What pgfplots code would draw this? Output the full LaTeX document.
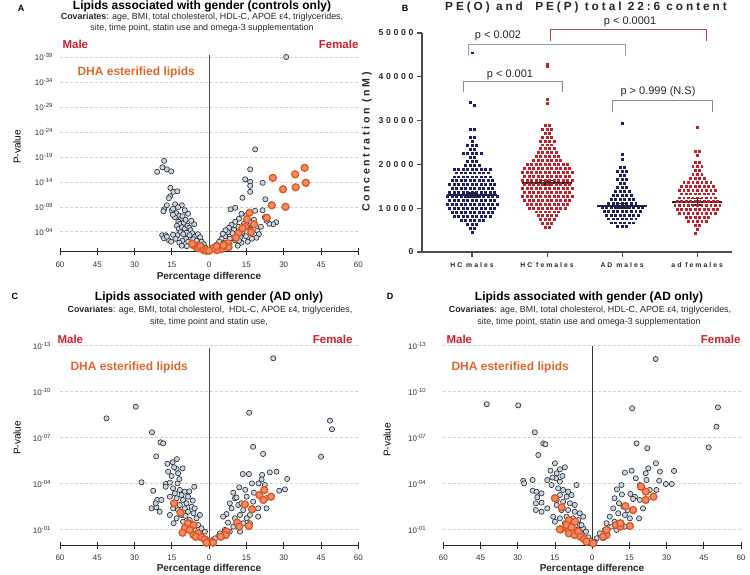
\documentclass[border=0pt]{standalone}
\usepackage{pgfplots}
\pgfplotsset{compat=1.18}
\usepackage{fontspec}
\setmainfont{Liberation Sans}
\newfontfamily\spacedt[LetterSpace=25]{Liberation Sans}
\newfontfamily\spacedy[LetterSpace=32]{Liberation Sans}
\newfontfamily\spacedx[LetterSpace=30]{Liberation Sans}
\definecolor{sexred}{HTML}{CC1F2F}
\definecolor{dhaorange}{HTML}{E0662C}
\definecolor{ptfill}{HTML}{C8D8E8}
\definecolor{dhafill}{HTML}{F08C6C}
\definecolor{dhaedge}{HTML}{DE561E}
\definecolor{navy}{HTML}{1E1E64}
\definecolor{fred}{HTML}{C0202A}
\definecolor{brgray}{HTML}{8A8A8A}
\definecolor{brblue}{HTML}{8FA2BA}
\definecolor{brred}{HTML}{A84848}

\pgfplotsset{
  volcano/.style={
    scale only axis, clip=false,
    xmin=-60, xmax=60, ymin=0,
    axis x line*=bottom, axis y line*=left,
    y axis line style={draw=none},
    x axis line style={line width=1pt, black!85},
    xtick={-60,-45,...,60},
    xticklabels={60,45,30,15,0,15,30,45,60},
    tick align=center,
    major tick length=7pt,
    xtick style={line width=0.8pt, black!85},
    ytick style={draw=none},
    ymajorgrids,
    major grid style={dash pattern=on 3pt off 2pt, gray!35, line width=0.5pt},
    xticklabel style={font=\fontsize{8}{9}\selectfont, text=black!80, yshift=-3pt},
    yticklabel style={font=\fontsize{8}{9}\selectfont, text=black!80},
  },
  grayp/.style={only marks, mark=*, mark size=2.6pt,
    mark options={fill=ptfill, draw=black!85, line width=0.6pt}},
  dhap/.style={only marks, mark=*, mark size=3.5pt,
    mark options={fill=dhafill, draw=dhaedge, line width=1.3pt}},
  swarm/.style={only marks, mark=square*, mark size=0.95pt},
}

\begin{document}
\begin{tikzpicture}
\path[use as bounding box] (0pt,0pt) rectangle (750pt,-575pt);

% ---------------- A ----------------
\begin{axis}[volcano, at={(60pt,-251.7pt)}, anchor=south west,
  width=298.3pt, height=196.7pt, ymax=39.4,
  ytick={4,9,14,19,24,29,34,39},
  yticklabels={10\textsuperscript{-04},10\textsuperscript{-09},10\textsuperscript{-14},10\textsuperscript{-19},10\textsuperscript{-24},10\textsuperscript{-29},10\textsuperscript{-34},10\textsuperscript{-39}},
]
\addplot[black!70, line width=1pt] coordinates {(0,0)(0,39.3)};
\addplot[grayp] coordinates {
(-18.1,18.2)(-18.8,16.9)(-17.0,16.5)(-15.3,16.1)(-20.9,16.0)
(-15.6,12.8)(-14.4,12.0)(-12.8,12.1)(-15.7,11.1)(-16.2,10.7)
(-17.0,9.3)(-13.7,9.5)(-18.1,8.5)(-15.0,8.3)(-18.4,8.1)(-14.5,8.6)
(-13.2,7.7)(-12.0,7.2)(-11.3,6.6)(-13.8,6.9)(-14.6,7.4)(-12.4,6.0)
(-10.7,7.1)(-11.7,5.6)(-10.2,5.8)(-9.5,6.4)(-13.0,5.2)(-12.2,4.6)
(-10.9,4.9)(-9.8,4.6)(-8.7,5.2)(-8.0,4.8)(-7.5,4.3)(-9.0,3.8)
(-11.5,3.9)(-10.4,3.5)(-12.8,3.3)(-6.8,3.7)(-7.9,3.3)(-5.8,3.0)
(-4.5,3.5)(-3.6,2.9)(-6.4,2.5)(-9.3,2.6)(-10.8,2.2)(-8.4,2.0)
(-5.0,2.2)(-3.0,2.0)(-2.2,1.5)(-4.2,1.5)(-7.0,1.6)(-12.0,1.8)
(-13.5,2.6)(-14.5,3.4)(-11.0,1.2)(-9.0,1.1)(-1.5,0.8)(-2.8,1.0)
(-18.9,3.3)(-17.5,3.3)(-18.2,2.7)(-16.2,2.3)(-17.0,3.0)(-15.3,2.0)
(-6.0,5.5)(-7.2,6.2)(-8.5,7.6)(-9.8,8.3)(-11.0,9.3)(-12.5,8.9)
(31.0,39.0)(18.5,20.5)(16.5,16.5)(14.5,14.5)(16.5,14.0)(16.5,13.2)(16.5,12.0)
(21.5,13.8)(13.4,10.8)(22.6,10.5)(8.6,8.5)(10.5,8.8)(18.5,8.2)(21.5,8.3)
(27.0,5.9)(25.8,5.5)(24.2,5.6)(23.1,6.2)
(12.0,6.6)(10.5,6.0)(9.0,5.4)(11.8,5.0)(10.0,4.4)(8.0,4.8)(13.4,4.0)(15.4,4.9)
(16.5,6.0)(18.0,6.4)(17.6,5.4)(16.8,4.4)(19.4,4.2)(20.0,3.5)(19.0,2.8)(17.2,2.6)
(14.8,3.1)(12.6,2.9)(11.0,3.4)(9.4,3.7)(7.5,3.9)(6.4,3.1)(8.3,2.6)(10.4,2.3)
(13.0,1.8)(15.5,2.0)(5.0,2.6)(4.0,2.0)(6.2,1.7)(8.2,1.5)(3.0,1.4)(2.2,0.9)
(4.8,1.1)(1.5,0.5)(7.0,1.0)(11.5,1.2)(12.0,2.2)(14.0,5.6)(6.6,4.3)(5.5,3.6)
(20.8,5.0)(22.4,6.9)(15.0,7.3)(13.0,7.6)
};
\addplot[dhap] coordinates {
(25.6,14.8)(29.7,12.5)(34.6,15.5)(38.4,16.8)(34.8,12.9)(38.9,13.8)(25.2,9.3)
(30.7,9.0)(23.2,6.8)(16.2,7.8)(15.2,6.5)(18.1,5.5)(14.5,5.0)(16.9,3.9)(11.8,3.7)
(13.4,4.7)(10.8,2.8)(7.5,1.7)(7.8,0.9)(4.8,0.5)(3.1,0.3)(5.8,1.3)(1.6,0.7)(3.0,1.1)
(-6.3,1.3)(-5.1,0.9)(-4.3,0.7)(-3.5,1.1)(-2.2,0.3)(-1.1,0.2)(0,0.2)(-6.8,1.6)
};
\end{axis}

% ---------------- B ----------------
\begin{axis}[at={(422pt,-252pt)}, anchor=south west, scale only axis,
  width=309.7pt, height=219pt, clip=false,
  xmin=-0.667, xmax=3.46, ymin=0, ymax=50000,
  axis x line*=bottom, axis y line*=left,
  axis line style={line width=1.6pt, black!70},
  tick style={line width=1.2pt, black!70},
  tick align=outside, major tick length=5pt,
  xtick={0,1,2,3}, xticklabels={HC males,HC females,AD males,ad females},
  ytick={0,10000,20000,30000,40000,50000},
  yticklabels={0,10000,20000,30000,40000,50000},
  scaled y ticks=false,
  xticklabel style={font=\spacedx\bfseries\fontsize{6.8}{8}\selectfont, text=black!85, yshift=-2pt},
  yticklabel style={font=\spacedy\bfseries\fontsize{8.6}{10}\selectfont, text=black!85},
]
% HC males
\addplot[swarm, navy] coordinates {
(-.03,28000)(.03,28000)(-.03,26200)(.03,26200)(0,25300)
(-.06,24400)(0,24400)(.06,24400)(-.03,23500)(.03,23500)
(-.12,22600)(-.06,22600)(0,22600)(.06,22600)(.12,22600)
(-.03,21700)(.03,21700)(-.06,20800)(0,20800)(.06,20800)
(-.09,19900)(-.03,19900)(.03,19900)(.09,19900)
(-.24,19000)(-.18,19000)(-.12,19000)(-.06,19000)(0,19000)(.06,19000)(.12,19000)(.18,19000)(.24,19000)
(-.21,18100)(-.15,18100)(-.09,18100)(-.03,18100)(.03,18100)(.09,18100)(.15,18100)(.21,18100)
(-.24,17200)(-.18,17200)(-.12,17200)(-.06,17200)(0,17200)(.06,17200)(.12,17200)(.18,17200)(.24,17200)
(-.27,16300)(-.21,16300)(-.15,16300)(-.09,16300)(-.03,16300)(.03,16300)(.09,16300)(.15,16300)(.21,16300)(.27,16300)
(-.3,15400)(-.24,15400)(-.18,15400)(-.12,15400)(-.06,15400)(0,15400)(.06,15400)(.12,15400)(.18,15400)(.24,15400)(.3,15400)
(-.27,14500)(-.21,14500)(-.15,14500)(-.09,14500)(-.03,14500)(.03,14500)(.09,14500)(.15,14500)(.21,14500)(.27,14500)
(-.3,13600)(-.24,13600)(-.18,13600)(-.12,13600)(-.06,13600)(0,13600)(.06,13600)(.12,13600)(.18,13600)(.24,13600)(.3,13600)
(-.33,12700)(-.27,12700)(-.21,12700)(-.15,12700)(-.09,12700)(-.03,12700)(.03,12700)(.09,12700)(.15,12700)(.21,12700)(.27,12700)(.33,12700)
(-.3,11800)(-.24,11800)(-.18,11800)(-.12,11800)(-.06,11800)(0,11800)(.06,11800)(.12,11800)(.18,11800)(.24,11800)(.3,11800)
(-.33,10900)(-.27,10900)(-.21,10900)(-.15,10900)(-.09,10900)(-.03,10900)(.03,10900)(.09,10900)(.15,10900)(.21,10900)(.27,10900)(.33,10900)
(-.3,10000)(-.24,10000)(-.18,10000)(-.12,10000)(-.06,10000)(0,10000)(.06,10000)(.12,10000)(.18,10000)(.24,10000)(.3,10000)
(-.27,9100)(-.21,9100)(-.15,9100)(-.09,9100)(-.03,9100)(.03,9100)(.09,9100)(.15,9100)(.21,9100)(.27,9100)
(-.24,8200)(-.18,8200)(-.12,8200)(-.06,8200)(0,8200)(.06,8200)(.12,8200)(.18,8200)(.24,8200)
(-.15,7300)(-.09,7300)(-.03,7300)(.03,7300)(.09,7300)(.15,7300)
(-.06,6400)(0,6400)(.06,6400)(-.03,5500)(.03,5500)(0,4600)
(.03,33600)(-.03,34200)(0,45500)
};
% HC females
\addplot[swarm, fred] coordinates {
(1,43000)(1,42400)(1,34800)(1,34000)
(.97,29000)(1.03,29000)(.94,28100)(1,28100)(1.06,28100)(.97,27200)(1.03,27200)
(.94,26300)(1,26300)(1.06,26300)(.91,25400)(.97,25400)(1.03,25400)(1.09,25400)
(.94,24500)(1,24500)(1.06,24500)(.91,23600)(.97,23600)(1.03,23600)(1.09,23600)
(.88,22700)(.94,22700)(1,22700)(1.06,22700)(1.12,22700)
(.85,21800)(.91,21800)(.97,21800)(1.03,21800)(1.09,21800)(1.15,21800)
(.82,20900)(.88,20900)(.94,20900)(1,20900)(1.06,20900)(1.12,20900)(1.18,20900)
(.73,20000)(.79,20000)(.85,20000)(.91,20000)(.97,20000)(1.03,20000)(1.09,20000)(1.15,20000)(1.21,20000)(1.27,20000)
(.7,19100)(.76,19100)(.82,19100)(.88,19100)(.94,19100)(1,19100)(1.06,19100)(1.12,19100)(1.18,19100)(1.24,19100)(1.3,19100)
(.67,18200)(.73,18200)(.79,18200)(.85,18200)(.91,18200)(.97,18200)(1.03,18200)(1.09,18200)(1.15,18200)(1.21,18200)(1.27,18200)(1.33,18200)
(.7,17300)(.76,17300)(.82,17300)(.88,17300)(.94,17300)(1,17300)(1.06,17300)(1.12,17300)(1.18,17300)(1.24,17300)(1.3,17300)
(.67,16400)(.73,16400)(.79,16400)(.85,16400)(.91,16400)(.97,16400)(1.03,16400)(1.09,16400)(1.15,16400)(1.21,16400)(1.27,16400)(1.33,16400)
(.7,15500)(.76,15500)(.82,15500)(.88,15500)(.94,15500)(1,15500)(1.06,15500)(1.12,15500)(1.18,15500)(1.24,15500)(1.3,15500)
(.67,14600)(.73,14600)(.79,14600)(.85,14600)(.91,14600)(.97,14600)(1.03,14600)(1.09,14600)(1.15,14600)(1.21,14600)(1.27,14600)(1.33,14600)
(.7,13700)(.76,13700)(.82,13700)(.88,13700)(.94,13700)(1,13700)(1.06,13700)(1.12,13700)(1.18,13700)(1.24,13700)(1.3,13700)
(.67,12800)(.73,12800)(.79,12800)(.85,12800)(.91,12800)(.97,12800)(1.03,12800)(1.09,12800)(1.15,12800)(1.21,12800)(1.27,12800)(1.33,12800)
(.7,11900)(.76,11900)(.82,11900)(.88,11900)(.94,11900)(1,11900)(1.06,11900)(1.12,11900)(1.18,11900)(1.24,11900)(1.3,11900)
(.73,11000)(.79,11000)(.85,11000)(.91,11000)(.97,11000)(1.03,11000)(1.09,11000)(1.15,11000)(1.21,11000)(1.27,11000)
(.76,10100)(.82,10100)(.88,10100)(.94,10100)(1,10100)(1.06,10100)(1.12,10100)(1.18,10100)(1.24,10100)
(.85,9200)(.91,9200)(.97,9200)(1.03,9200)(1.09,9200)(1.15,9200)
(.88,8300)(.94,8300)(1,8300)(1.06,8300)(1.12,8300)
(.91,7400)(.97,7400)(1.03,7400)(1.09,7400)
(.94,6500)(1,6500)(1.06,6500)(.97,5600)(1.03,5600)
};
% AD males
\addplot[swarm, navy] coordinates {
(2,29500)(2,22400)(2,21200)(1.97,19300)(2.03,19300)
(1.94,18400)(2,18400)(2.06,18400)(1.97,17500)(2.03,17500)
(1.94,16600)(2,16600)(2.06,16600)(1.97,15700)(2.03,15700)
(1.94,14800)(2,14800)(2.06,14800)
(1.91,13900)(1.97,13900)(2.03,13900)(2.09,13900)
(1.88,13000)(1.94,13000)(2,13000)(2.06,13000)(2.12,13000)
(1.85,12100)(1.91,12100)(1.97,12100)(2.03,12100)(2.09,12100)(2.15,12100)
(1.82,11200)(1.88,11200)(1.94,11200)(2,11200)(2.06,11200)(2.12,11200)(2.18,11200)
(1.73,10300)(1.79,10300)(1.85,10300)(1.91,10300)(1.97,10300)(2.03,10300)(2.09,10300)(2.15,10300)(2.21,10300)(2.27,10300)
(1.76,9400)(1.82,9400)(1.88,9400)(1.94,9400)(2,9400)(2.06,9400)(2.12,9400)(2.18,9400)(2.24,9400)
(1.79,8500)(1.85,8500)(1.91,8500)(1.97,8500)(2.03,8500)(2.09,8500)(2.15,8500)(2.21,8500)
(1.82,7600)(1.88,7600)(1.94,7600)(2,7600)(2.06,7600)(2.12,7600)(2.18,7600)
(1.85,6700)(1.91,6700)(1.97,6700)(2.03,6700)(2.09,6700)(2.15,6700)
(1.94,5900)(2,5900)(2.06,5900)
};
% ad females
\addplot[swarm, fred] coordinates {
(3,28500)(2.97,23000)(3.03,23000)(3,22100)(2.97,20500)(3.03,20500)
(2.94,19600)(3,19600)(3.06,19600)(2.97,18700)(3.03,18700)
(2.94,17800)(3,17800)(3.06,17800)(2.91,16900)(2.97,16900)(3.03,16900)(3.09,16900)
(2.82,16000)(2.88,16000)(2.94,16000)(3,16000)(3.06,16000)(3.12,16000)(3.18,16000)
(2.79,15100)(2.85,15100)(2.91,15100)(2.97,15100)(3.03,15100)(3.09,15100)(3.15,15100)(3.21,15100)
(2.76,14200)(2.82,14200)(2.88,14200)(2.94,14200)(3,14200)(3.06,14200)(3.12,14200)(3.18,14200)(3.24,14200)
(2.79,13300)(2.85,13300)(2.91,13300)(2.97,13300)(3.03,13300)(3.09,13300)(3.15,13300)(3.21,13300)
(2.76,12400)(2.82,12400)(2.88,12400)(2.94,12400)(3,12400)(3.06,12400)(3.12,12400)(3.18,12400)(3.24,12400)
(2.73,11500)(2.79,11500)(2.85,11500)(2.91,11500)(2.97,11500)(3.03,11500)(3.09,11500)(3.15,11500)(3.21,11500)(3.27,11500)
(2.7,10600)(2.76,10600)(2.82,10600)(2.88,10600)(2.94,10600)(3,10600)(3.06,10600)(3.12,10600)(3.18,10600)(3.24,10600)(3.3,10600)
(2.73,9700)(2.79,9700)(2.85,9700)(2.91,9700)(2.97,9700)(3.03,9700)(3.09,9700)(3.15,9700)(3.21,9700)(3.27,9700)
(2.76,8800)(2.82,8800)(2.88,8800)(2.94,8800)(3,8800)(3.06,8800)(3.12,8800)(3.18,8800)(3.24,8800)
(2.85,7900)(2.91,7900)(2.97,7900)(3.03,7900)(3.09,7900)(3.15,7900)
(2.88,7000)(2.94,7000)(3,7000)(3.06,7000)(3.12,7000)
(2.97,6100)(3.03,6100)(3,5200)(2.97,4300)
};
% means and SEM
\addplot[black!85, line width=2pt] coordinates {(-0.33,13000)(0.33,13000)};
\addplot[black!85, line width=2pt] coordinates {(0.67,15800)(1.33,15800)};
\addplot[black!85, line width=2pt] coordinates {(1.67,10600)(2.33,10600)};
\addplot[black!85, line width=2pt] coordinates {(2.67,11500)(3.33,11500)};
\addplot[black!85, only marks, mark=*, mark size=0pt, error bars/.cd, y dir=both, y explicit,
  error bar style={line width=1.2pt, black!85}, error mark options={rotate=90, mark size=6pt, line width=1.2pt, black!85}]
  coordinates {(0,13000) +- (0,450) (1,15800) +- (0,500) (2,10600) +- (0,550) (3,11500) +- (0,750)};
% comparison brackets
\addplot[brgray, line width=0.9pt] coordinates {(-0.12,36530)(-0.12,39040)(1.21,39040)(1.21,36530)};
\addplot[brblue, line width=0.9pt] coordinates {(-0.05,44750)(-0.05,47490)(2.04,47490)(2.04,44750)};
\addplot[brred, line width=0.9pt] coordinates {(1.04,48170)(1.04,50900)(3.13,50900)(3.13,48170)};
\addplot[brgray, line width=0.9pt] coordinates {(1.87,31960)(1.87,34700)(3.2,34700)(3.2,31960)};
\end{axis}

% ---------------- C ----------------
\begin{axis}[volcano, at={(60pt,-545pt)}, anchor=south west,
  width=298.3pt, height=199.3pt, ymax=13,
  ytick={1,4,7,10,13},
  yticklabels={10\textsuperscript{-01},10\textsuperscript{-04},10\textsuperscript{-07},10\textsuperscript{-10},10\textsuperscript{-13}},
  yticklabel style={xshift=-2pt},
]
\addplot[black!70, line width=1pt] coordinates {(0,0)(0,12.85)};
\addplot[grayp] coordinates {
(-29.5,9.02)(-41.3,8.26)(-23.0,7.35)(-19.6,6.7)(-18.5,6.63)(-21.3,5.78)(-27.2,4.09)
(-14.7,5.4)(-16.5,4.78)(-13.1,4.96)(-10.7,5.0)(-14.1,5.07)(-15.1,4.5)(-12.5,4.68)
(-6.0,3.8)(-22.5,3.54)(-20.9,2.94)(-19.2,2.94)(-23.2,2.39)(-21.2,2.46)(-19.9,2.17)
(-21.5,2.72)(-17.4,3.98)(-15.8,4.07)(-12.7,4.02)(-17.5,3.8)(-14.5,3.7)(-11.8,3.59)
(-9.8,3.48)(-13.8,3.37)(-11.1,3.26)(-15.8,3.15)(-13.1,3.05)(-10.5,2.94)(-8.5,3.15)
(-9.1,2.72)(-11.8,2.61)(-14.5,2.39)(-12.5,2.28)(-9.8,2.39)(-7.1,2.5)(-5.8,2.39)
(-3.7,1.96)(-6.3,2.07)(-8.5,2.17)(-11.1,1.96)(-13.1,1.74)(-15.8,1.96)(-14.3,1.42)
(-10.5,1.52)(-7.8,1.63)(-5.1,1.74)(-4.4,1.3)(-3.1,1.09)(-1.7,0.87)(-5.8,0.98)
(-2.5,0.5)(-1.0,0.3)(-4.0,0.7)(-7.0,1.2)(-9.5,1.9)(-6.6,2.9)(-8.0,3.5)(-12.0,4.3)
(-16.8,5.3)(-13.0,5.6)
(25.8,12.18)(16.1,8.63)(48.6,8.11)(49.4,7.55)(17.7,6.41)(21.7,5.94)(45.0,5.76)
(13.5,4.63)(16.0,4.63)(21.3,4.57)(24.4,4.74)(27.1,4.78)(31.4,4.31)(17.2,4.02)
(19.9,4.02)(21.1,4.28)(22.4,3.91)(28.2,3.54)(30.5,3.63)(18.0,3.41)(20.4,3.26)
(22.9,3.05)(23.1,2.39)(19.7,1.85)(16.4,1.96)(19.7,2.39)(17.7,2.83)(15.1,3.15)
(12.1,3.76)(9.7,3.41)(10.4,3.05)(8.3,2.72)(9.0,2.39)(11.7,2.61)(13.7,2.28)
(12.4,1.96)(15.1,1.74)(10.4,1.74)(7.0,2.02)(5.6,1.85)(7.6,1.46)(9.7,1.2)(12.4,0.87)
(8.3,0.87)(6.3,0.98)(4.3,0.76)(3.6,0.54)(2.3,0.43)(5.6,0.54)(11.0,1.42)(13.7,1.42)
(16.4,1.42)(13.0,2.72)(1.2,0.3)(14.5,3.6)(11.0,3.1)
};
\addplot[dhap] coordinates {
(-14.1,2.72)(-11.5,2.11)(-8.5,1.42)(-6.3,1.3)(-9.8,1.09)(-7.8,0.98)(-10.7,0.8)
(-6.3,0.65)(-4.4,0.76)(-5.4,0.54)(-3.1,0.5)(-1.7,0.37)(-0.4,0.22)(1.0,0.22)
(22.2,3.59)(20.2,3.26)(21.8,2.94)(24.9,3.15)(14.4,2.65)(17.3,2.33)(11.3,1.46)
(12.1,1.2)(16.0,1.24)(7.0,0.87)(6.7,0.65)(4.6,0.54)(1.6,0.15)(-1.1,0.15)
};
\end{axis}

% ---------------- D ----------------
\begin{axis}[volcano, at={(443.3pt,-545pt)}, anchor=south west,
  width=297.7pt, height=199.3pt, ymax=13,
  ytick={1,4,7,10,13},
  yticklabels={10\textsuperscript{-01},10\textsuperscript{-04},10\textsuperscript{-07},10\textsuperscript{-10},10\textsuperscript{-13}},
  yticklabel style={xshift=-10pt},
]
\addplot[black!80, line width=1pt] coordinates {(0,0)(0,13)};
\addplot[grayp] coordinates {
(-42.5,9.18)(-29.8,9.11)(-23.1,7.35)(-19.7,6.63)(-18.8,6.57)(-21.7,5.87)(-27.8,4.19)
(-27.4,4.02)(-24.0,4.24)(-15.0,5.33)(-13.0,4.94)(-11.0,5.07)(-16.8,4.85)(-14.3,4.68)
(-14.6,4.35)(-13.0,4.13)(-18.1,4.24)(-16.4,3.91)(-6.3,3.91)(-24.0,3.54)(-22.4,3.48)
(-20.4,3.37)(-22.1,3.11)(-22.7,2.72)(-20.4,2.76)(-18.1,2.39)(-20.4,2.17)(-22.7,2.28)
(-13.7,3.7)(-11.7,3.59)(-9.7,3.48)(-13.0,3.26)(-10.3,3.15)(-8.3,3.26)(-14.3,2.94)
(-11.7,2.83)(-9.0,2.72)(-7.0,2.61)(-14.3,2.61)(-12.3,2.28)(-9.7,2.28)(-7.0,2.17)
(-5.0,2.07)(-15.7,1.85)(-13.0,1.74)(-10.3,1.85)(-7.7,1.74)(-5.6,1.63)(-3.6,1.85)
(-15.0,1.52)(-11.0,1.42)(-8.3,1.3)(-5.0,1.3)(-3.6,1.09)(-6.3,0.98)(-2.5,0.87)
(-1.5,0.5)(-0.8,0.3)(-4.2,0.7)(-4.3,1.3)(-12.0,4.5)(-16.0,4.4)
(25.6,12.13)(16.1,8.92)(50.7,8.98)(50.1,7.72)(47.0,6.37)(17.9,6.63)(22.2,6.31)
(25.7,5.33)(22.6,5.0)(27.3,4.78)(33.0,4.83)(13.2,4.72)(15.9,4.85)(21.6,4.68)
(17.6,4.35)(21.9,4.24)(27.0,4.19)(29.7,3.98)(32.1,3.98)(25.9,3.59)(23.2,3.59)
(19.2,3.91)(10.0,3.63)(11.8,3.91)(15.4,3.33)(17.2,3.15)(19.2,2.94)(20.5,2.39)
(18.9,1.74)(9.0,3.05)(10.8,2.72)(12.6,2.5)(14.3,2.28)(8.5,2.39)(10.5,2.07)
(13.2,1.96)(15.2,1.74)(7.1,1.85)(9.0,1.52)(11.8,1.42)(5.8,1.42)(7.8,1.2)(5.1,0.98)
(9.8,0.98)(3.1,0.76)(4.4,0.44)(1.8,0.44)(13.2,1.2)(1.0,0.2)(12.0,3.3)(16.5,3.0)
};
\addplot[dhap] coordinates {
(-15.0,3.05)(-12.3,2.46)(-9.3,1.63)(-7.0,1.52)(-12.7,1.02)(-9.7,0.98)(-9.4,0.76)
(-7.0,0.65)(-5.6,0.87)(-4.7,0.54)(-3.3,0.39)(-2.0,0.22)(-10.3,1.3)(-8.3,1.15)
(-13.0,1.02)(0.4,0.11)(19.7,3.8)(21.6,3.48)(21.6,2.94)(24.7,3.15)(13.4,2.54)
(16.5,2.28)(9.6,1.3)(11.4,1.2)(11.4,1.42)(15.2,1.24)(5.8,0.65)(4.4,0.54)(5.8,0.98)
(-2.3,0.22)
};
\end{axis}

% ---------------- texts ----------------
\tikzset{ttl/.style={font=\bfseries\fontsize{12}{14}\selectfont},
  cov/.style={font=\fontsize{8.9}{10}\selectfont, text=black!85},
  sex/.style={font=\bfseries\fontsize{11.5}{13}\selectfont, text=sexred},
  dha/.style={font=\bfseries\fontsize{12}{14}\selectfont, text=dhaorange},
  pv/.style={font=\fontsize{10}{12}\selectfont, rotate=90},
  pd/.style={font=\bfseries\fontsize{10}{12}\selectfont, text=black!85},
  pan/.style={font=\bfseries\fontsize{9}{10}\selectfont},
  brl/.style={font=\fontsize{11}{13}\selectfont, text=black!85}}

\node[pan] at (21pt,-8pt) {A};
\node[ttl] at (202pt,-6pt) {Lipids associated with gender (controls only)};
\node[cov] at (202pt,-17.5pt) {\textbf{Covariates}: age, BMI, total cholesterol, HDL-C, APOE ε4, triglycerides,};
\node[cov] at (202pt,-28.5pt) {site, time point, statin use and omega-3 supplementation};
\node[sex, anchor=west] at (59pt,-44pt) {Male};
\node[sex, anchor=east] at (362pt,-44pt) {Female};
\node[dha, anchor=west] at (74pt,-72pt) {DHA esterified lipids};
\node[pv] at (17pt,-147pt) {P-value};
\node[pd] at (209pt,-277pt) {Percentage difference};

\node[pan] at (405pt,-8pt) {B};
\node[font=\spacedt\bfseries\fontsize{11.8}{13}\selectfont, text=black!85] at (586pt,-7pt) {PE(O) and\ \ PE(P) total 22:6 content};
\node[font=\spacedt\bfseries\fontsize{10.6}{12}\selectfont, rotate=90, text=black!85] at (367pt,-142pt) {Concentration (nM)};
\node[brl] at (510pt,-75pt) {p < 0.001};
\node[brl] at (498pt,-36pt) {p < 0.002};
\node[brl] at (630pt,-22pt) {p < 0.0001};
\node[brl] at (658pt,-92pt) {p > 0.999 (N.S)};

\node[pan] at (15pt,-296pt) {C};
\node[ttl] at (209pt,-297pt) {Lipids associated with gender (AD only)};
\node[cov] at (210pt,-310pt) {\textbf{Covariates}: age, BMI, total cholesterol,\ \ HDL-C, APOE ε4, triglycerides,};
\node[cov] at (209pt,-322pt) {site, time point and statin use,};
\node[sex, anchor=west] at (54pt,-339pt) {Male};
\node[sex, anchor=east] at (356pt,-339pt) {Female};
\node[dha, anchor=west] at (67pt,-367pt) {DHA esterified lipids};
\node[pv] at (17pt,-438pt) {P-value};
\node[pd] at (209pt,-569pt) {Percentage difference};

\node[pan] at (390pt,-296pt) {D};
\node[ttl] at (589pt,-297pt) {Lipids associated with gender (AD only)};
\node[cov] at (590pt,-310pt) {\textbf{Covariates}: age, BMI, total cholesterol, HDL-C, APOE ε4, triglycerides,};
\node[cov] at (589pt,-322pt) {site, time point, statin use and omega-3 supplementation};
\node[sex, anchor=west] at (443pt,-339pt) {Male};
\node[sex, anchor=east] at (744pt,-339pt) {Female};
\node[dha, anchor=west] at (448pt,-367pt) {DHA esterified lipids};
\node[pv] at (387pt,-440pt) {P-value};
\node[pd] at (592pt,-569pt) {Percentage difference};
\end{tikzpicture}
\end{document}
